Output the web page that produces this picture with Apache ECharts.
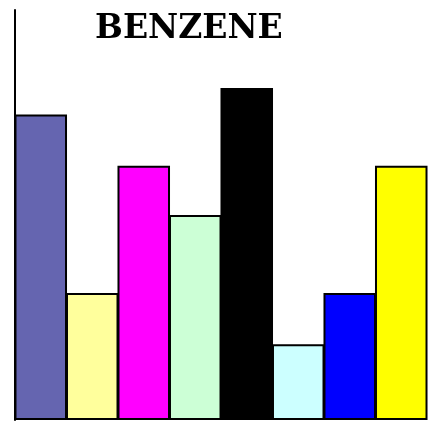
<!DOCTYPE html>
<html>
<head>
<meta charset="utf-8">
<style>
  html, body { margin: 0; padding: 0; background: #ffffff; }
  #chart { width: 436px; height: 421px; }
</style>
<script src="https://cdn.jsdelivr.net/npm/echarts@6/dist/echarts.min.js"></script>
</head>
<body>
<div id="chart"></div>
<script>
// Benzene levels, one bar per sample
const categories = ['1', '2', '3', '4', '5', '6', '7', '8'];
const values = [74.5, 31, 62, 50, 81, 18.5, 31, 62];
const barColors = ['#6565b0', '#ffff9c', '#ff00ff', '#ccffd6', '#000000', '#ccffff', '#0000ff', '#ffff00'];

const chart = echarts.init(document.getElementById('chart'), null, { renderer: 'canvas' });

chart.setOption({
  backgroundColor: '#ffffff',
  animation: false,
  title: {
    text: 'BENZENE',
    left: 90,
    top: 8,
    textStyle: {
      fontFamily: 'DejaVu Serif',
      fontWeight: 'bold',
      fontSize: 33,
      color: '#000000'
    }
  },
  grid: { left: 15, right: 9, top: 10, bottom: 1 },
  xAxis: {
    type: 'category',
    data: categories,
    show: false
  },
  yAxis: {
    type: 'value',
    min: 0,
    max: 100,
    axisLine: { show: true, lineStyle: { color: '#000000', width: 2 } },
    axisTick: { show: false },
    axisLabel: { show: false },
    splitLine: { show: false }
  },
  series: [{
    type: 'bar',
    barWidth: '102%',
    data: values.map((v, i) => ({
      value: v,
      itemStyle: { color: barColors[i] }
    })),
    itemStyle: { borderColor: '#000000', borderWidth: 2 }
  }]
});
</script>
</body>
</html>
